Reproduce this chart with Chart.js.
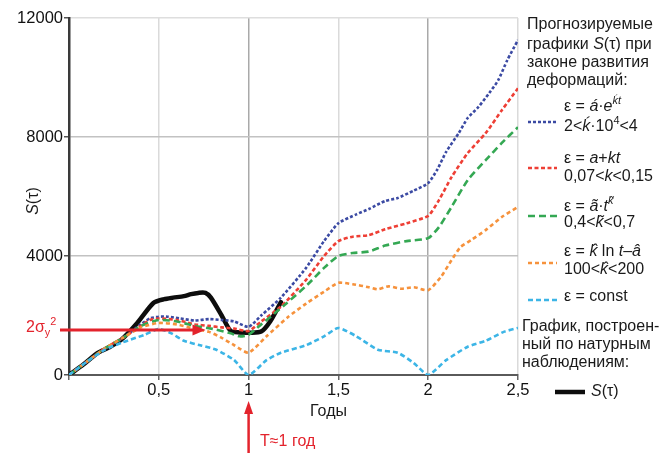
<!DOCTYPE html>
<html><head><meta charset="utf-8">
<script src="https://cdn.jsdelivr.net/npm/chart.js@4"></script>
<style>
html,body{margin:0;padding:0;background:#fff;}
#wrap{position:relative;width:665px;height:453px;overflow:hidden;}
canvas{position:absolute;left:0;top:0;}
.t{position:absolute;white-space:nowrap;font-family:"Liberation Sans",Arial,sans-serif;font-size:16px;line-height:16px;color:#1a1a1a;}
.t i{font-style:italic;}
.t sup{font-size:0.68em;vertical-align:0.6em;line-height:0;}
.t sub{font-size:0.68em;vertical-align:-0.35em;line-height:0;}
.red{color:#e3232c;}
</style></head>
<body><div id="wrap"><canvas id="c" width="665" height="453" style="width:665px;height:453px"></canvas></div>
<script>
// ---- data ----
const xTicks = [0, 0.5, 1, 1.5, 2, 2.5];
const yTicks = [0, 4000, 8000, 12000];

const tObs = [0, 0.08, 0.16, 0.22, 0.29, 0.38, 0.47, 0.53, 0.58, 0.64, 0.68, 0.72, 0.76, 0.79, 0.85, 0.9, 0.95, 1.01, 1.07, 1.12, 1.18];
const sObs = [0, 350, 740, 920, 1180, 1750, 2420, 2550, 2600, 2650, 2720, 2760, 2760, 2600, 2000, 1480, 1430, 1420, 1460, 1800, 2450];

const tExp = [0, 0.1, 0.2, 0.3, 0.4, 0.45, 0.5, 0.55, 0.62, 0.7, 0.78, 0.85, 0.92, 1.0, 1.07, 1.18, 1.32, 1.42, 1.5, 1.6, 1.67, 1.76, 1.83, 1.92, 2.0, 2.05, 2.1, 2.17, 2.22, 2.28, 2.34, 2.39, 2.44, 2.5];
const sExp = [0, 450, 880, 1250, 1700, 1900, 1960, 1960, 1900, 1830, 1880, 1850, 1800, 1620, 2000, 2600, 3600, 4500, 5100, 5400, 5580, 5850, 5950, 6200, 6450, 6900, 7500, 8130, 8640, 9010, 9480, 9910, 10580, 11260];

const tLin = [0, 0.1, 0.2, 0.3, 0.4, 0.45, 0.5, 0.6, 0.7, 0.78, 0.85, 0.92, 1.0, 1.07, 1.18, 1.32, 1.42, 1.5, 1.58, 1.67, 1.76, 1.88, 2.0, 2.06, 2.13, 2.22, 2.32, 2.41, 2.5];
const sLin = [0, 450, 900, 1250, 1650, 1850, 1900, 1850, 1700, 1650, 1600, 1560, 1480, 1800, 2300, 3200, 4000, 4500, 4650, 4700, 4900, 5100, 5350, 5880, 6650, 7460, 8130, 8900, 9640];

const tPow = [0, 0.1, 0.2, 0.3, 0.4, 0.5, 0.6, 0.7, 0.8, 0.9, 0.95, 1.0, 1.07, 1.2, 1.33, 1.42, 1.5, 1.58, 1.67, 1.76, 1.88, 2.0, 2.06, 2.13, 2.22, 2.32, 2.41, 2.5];
const sPow = [0, 450, 900, 1250, 1650, 1850, 1800, 1650, 1550, 1400, 1300, 1350, 1700, 2350, 3050, 3600, 4000, 4100, 4150, 4350, 4500, 4600, 4970, 5650, 6550, 7220, 7800, 8330];

const tLog = [0, 0.1, 0.2, 0.3, 0.4, 0.5, 0.6, 0.7, 0.78, 0.85, 0.92, 1.0, 1.1, 1.22, 1.32, 1.42, 1.5, 1.58, 1.67, 1.72, 1.78, 1.85, 1.92, 2.0, 2.07, 2.13, 2.18, 2.24, 2.32, 2.41, 2.5];
const sLog = [0, 450, 900, 1250, 1600, 1750, 1700, 1550, 1450, 1250, 1000, 750, 1300, 1950, 2400, 2800, 3100, 3050, 2950, 2880, 2980, 2900, 2950, 2850, 3290, 3860, 4300, 4540, 4870, 5310, 5650];

const tConst = [0, 0.1, 0.2, 0.3, 0.42, 0.5, 0.57, 0.64, 0.73, 0.82, 0.92, 1.0, 1.1, 1.18, 1.32, 1.42, 1.5, 1.6, 1.72, 1.83, 1.92, 2.0, 2.1, 2.22, 2.32, 2.42, 2.5];
const sConst = [0, 450, 850, 1100, 1350, 1550, 1400, 1150, 1000, 850, 500, 0, 500, 750, 1000, 1300, 1580, 1300, 850, 750, 400, 0, 500, 950, 1150, 1450, 1580];

const sigmaLevel = 1510;    // 2σy² level
const sigmaArrowEnd = 0.76; // arrow tip (years)
const periodT = 1;          // T≈1 год

// ---- chart ----
const FONT = '"Liberation Sans",Arial,sans-serif';
Chart.defaults.font.family = FONT;
Chart.defaults.font.size = 16.5;
Chart.defaults.color = '#111';

const pts = (ts, vs) => ts.map((t, i) => ({x: t, y: vs[i]}));
const C = {exp:'#3b4aa3', lin:'#ee3f35', pow:'#34a853', log:'#f6923c', cst:'#3cb5e6', obs:'#0d0d0d'};
function dash(label, ts, vs, color, pattern){
  return {label, data: pts(ts, vs), borderColor: color, borderWidth: 2.6, borderDash: pattern,
          pointRadius: 0, tension: 0.2, fill: false};
}
const datasets = [
  dash('const', tConst, sConst, C.cst, [5,3]),
  dash('ln', tLog, sLog, C.log, [4,3]),
  dash('pow', tPow, sPow, C.pow, [7,4]),
  dash('lin', tLin, sLin, C.lin, [4,2.5]),
  dash('exp', tExp, sExp, C.exp, [3,2]),
  {label:'S', data: pts(tObs, sObs), borderColor: C.obs, borderWidth: 4.5, pointRadius: 0, tension: 0.25,
   borderJoinStyle:'round', borderCapStyle:'round', fill:false}
];

const overlay = {
  id: 'overlay',
  afterDraw(chart){
    const ctx = chart.ctx, xs = chart.scales.x, ys = chart.scales.y;
    ctx.save();
    ctx.strokeStyle = '#e3232c'; ctx.fillStyle = '#e3232c'; ctx.lineWidth = 3;
    // horizontal arrow 2σy²
    const yy = ys.getPixelForValue(sigmaLevel);
    const xe = xs.getPixelForValue(sigmaArrowEnd);
    ctx.beginPath(); ctx.moveTo(xs.left - 9, yy); ctx.lineTo(xe - 10, yy); ctx.stroke();
    ctx.beginPath(); ctx.moveTo(xe, yy); ctx.lineTo(xe - 13, yy - 5.5); ctx.lineTo(xe - 13, yy + 5.5); ctx.closePath(); ctx.fill();
    // vertical arrow T
    const xt = xs.getPixelForValue(periodT);
    const tip = 401;
    ctx.lineWidth = 2.5;
    ctx.beginPath(); ctx.moveTo(xt, chart.height); ctx.lineTo(xt, tip + 10); ctx.stroke();
    ctx.beginPath(); ctx.moveTo(xt, tip); ctx.lineTo(xt - 4.5, tip + 13); ctx.lineTo(xt + 4.5, tip + 13); ctx.closePath(); ctx.fill();
    // legend swatches
    const sw = [[4,122],[3,168],[2,216],[1,263],[0,300]];
    sw.forEach(([i, y]) => {
      const d = chart.data.datasets[i];
      ctx.strokeStyle = d.borderColor; ctx.lineWidth = 2.6; ctx.setLineDash(d.borderDash);
      ctx.beginPath(); ctx.moveTo(528, y); ctx.lineTo(557, y); ctx.stroke();
    });
    ctx.setLineDash([]);
    ctx.strokeStyle = C.obs; ctx.lineWidth = 4.5;
    ctx.beginPath(); ctx.moveTo(555, 392); ctx.lineTo(585, 392); ctx.stroke();
    ctx.restore();
  }
};

new Chart(document.getElementById('c'), {
  type: 'line',
  data: {datasets},
  options: {
    responsive: false, animation: false,
    layout: {padding: {left: 0, right: 147, top: 18, bottom: 0}},
    plugins: {legend: {display: false}, tooltip: {enabled: false}},
    scales: {
      x: {type: 'linear', min: 0, max: 2.5,
          afterBuildTicks: s => { s.ticks = xTicks.map(v => ({value: v})); },
          afterFit: s => { s.height = 78; },
          ticks: {callback: v => v === 0 ? '' : String(v).replace('.', ','), padding: 1, color: '#111', maxRotation: 0},
          grid: {color: c => (c.tick && (c.tick.value === 1 || c.tick.value === 2)) ? '#a9a9a9' : '#dadada',
                 lineWidth: 1.5, tickLength: 5, tickColor: '#666'},
          border: {color: '#5a5a5a', width: 2}},
      y: {min: 0, max: 12000,
          afterBuildTicks: s => { s.ticks = yTicks.map(v => ({value: v})); },
          afterFit: s => { s.width = 69; },
          ticks: {callback: v => String(v), padding: 1, color: '#111'},
          grid: {color: c => (c.tick && c.tick.value === 12000) ? '#dedede' : '#c2c2c2',
                 lineWidth: 1.5, tickLength: 5, tickColor: '#555'},
          border: {color: '#3a3a3a', width: 2.5}}
    }
  },
  plugins: [overlay]
});

// ---- text overlays ----
const wrap = document.getElementById('wrap');
function txt(html, x, baseline, cls){
  const d = document.createElement('div');
  d.className = 't' + (cls ? ' ' + cls : '');
  d.innerHTML = html;
  d.style.left = x + 'px'; d.style.top = (baseline - 13.6) + 'px';
  wrap.appendChild(d); return d;
}
txt('Прогнозируемые', 527, 30);
txt('графики <i>S</i>(τ) при', 527, 50);
txt('законе развития', 527, 68);
txt('деформаций:', 527, 86);
txt('ε = <i>á</i>·<i>e</i><sup><i>ḱt</i></sup>', 564, 112);
txt('2&lt;<i>ḱ</i>·10<sup>4</sup>&lt;4', 564, 132);
txt('ε = <i>a</i>+<i>kt</i>', 564, 164);
txt('0,07&lt;<i>k</i>&lt;0,15', 564, 182);
txt('ε = <i>ã</i>·<i>t</i><sup><i>k̃</i></sup>', 564, 212);
txt('0,4&lt;<i>k̃</i>&lt;0,7', 564, 228);
txt('ε = <i>k̂</i> ln <i>t</i>–<i>â</i>', 564, 257);
txt('100&lt;<i>k̂</i>&lt;200', 564, 275);
txt('ε = const', 564, 302);
txt('График, построен-', 522, 332);
txt('ный по натурным', 522, 350);
txt('наблюдениям:', 522, 368);
txt('<i>S</i>(τ)', 591, 397);
txt('Годы', 310, 417);
txt('2σ<sub>y</sub><sup>2</sup>', 26, 333, 'red');
txt('T≈1 год', 260, 447, 'red');
const yt = txt('<i>S</i>(τ)', 0, 0);
yt.style.left = '33px'; yt.style.top = '201px';
yt.style.transform = 'translate(-50%,-50%) rotate(-90deg)';
</script>
</body></html>
